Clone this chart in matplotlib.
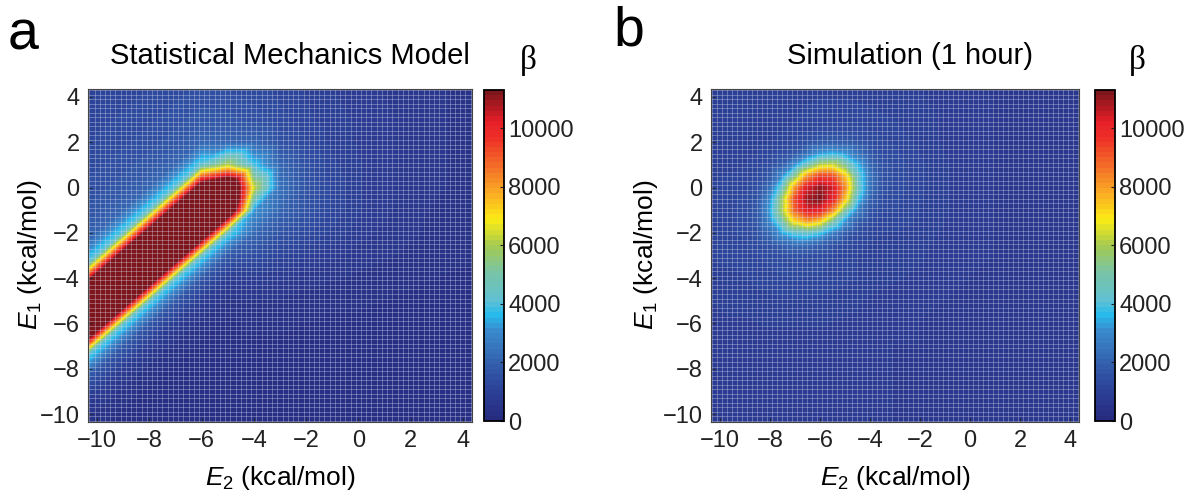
import numpy as np
import matplotlib
matplotlib.use("Agg")
import matplotlib.pyplot as plt
import matplotlib.tri as mtri
from matplotlib.colors import LinearSegmentedColormap, Normalize
from matplotlib.cm import ScalarMappable

plt.rcParams['font.family'] = ['Liberation Sans', 'DejaVu Sans']
plt.rcParams['mathtext.fontset'] = 'custom'
plt.rcParams['mathtext.rm'] = 'Liberation Sans'
plt.rcParams['mathtext.it'] = 'Liberation Sans:italic'

# energy grid (kcal/mol), 1 unit spacing, one step past the axis range
grid_e2 = [-11, -10, -9, -8, -7, -6, -5, -4, -3, -2, -1, 0, 1, 2, 3, 4, 5]
grid_e1 = [5, 4, 3, 2, 1, 0, -1, -2, -3, -4, -5, -6, -7, -8, -9, -10, -11]
ticks_e = [-10, -8, -6, -4, -2, 0, 2, 4]
cbar_ticks = [0, 2000, 4000, 6000, 8000, 10000]

# panel a: statistical mechanics model, beta in thousands
# rows: E1 = 5 ... -11 (top to bottom), cols: E2 = -11 ... 5
model_beta = [
    [0.95, 1.0, 1.08, 1.17, 1.27, 1.38, 1.35, 1.25, 1.15, 1.0, 0.9, 0.8, 0.7, 0.6, 0.55, 0.5, 0.5],
    [1.0, 1.08, 1.17, 1.27, 1.38, 1.5, 1.45, 1.35, 1.2, 1.05, 0.9, 0.8, 0.7, 0.6, 0.55, 0.5, 0.5],
    [1.08, 1.17, 1.27, 1.38, 1.5, 1.7, 1.65, 1.5, 1.3, 1.1, 0.95, 0.85, 0.75, 0.65, 0.55, 0.5, 0.5],
    [1.17, 1.27, 1.38, 1.5, 1.7, 2.1, 2.1, 2.1, 1.55, 1.25, 1.0, 0.85, 0.75, 0.65, 0.55, 0.5, 0.5],
    [1.27, 1.38, 1.5, 1.7, 2.1, 4.2, 6.0, 3.8, 2.1, 1.5, 1.1, 0.9, 0.75, 0.65, 0.55, 0.5, 0.5],
    [1.38, 1.5, 1.7, 2.1, 4.2, 13.1, 15.0, 6.3, 2.4, 1.6, 1.2, 0.9, 0.75, 0.65, 0.55, 0.5, 0.5],
    [1.5, 1.7, 2.1, 4.2, 13.1, 15.0, 14.35, 3.2, 2.1, 1.6, 1.2, 0.9, 0.75, 0.6, 0.5, 0.5, 0.5],
    [1.7, 2.1, 4.2, 13.1, 15.0, 14.35, 4.2, 2.2, 1.6, 1.3, 1.0, 0.8, 0.65, 0.55, 0.5, 0.45, 0.45],
    [2.1, 4.2, 13.1, 15.0, 14.35, 4.2, 1.7, 1.4, 1.1, 0.9, 0.75, 0.6, 0.55, 0.5, 0.45, 0.4, 0.4],
    [4.2, 13.1, 15.0, 14.35, 4.2, 1.7, 0.8, 0.85, 0.75, 0.6, 0.55, 0.5, 0.45, 0.4, 0.35, 0.3, 0.3],
    [13.1, 15.0, 14.35, 4.2, 1.7, 0.8, 0.45, 0.5, 0.5, 0.45, 0.4, 0.4, 0.35, 0.3, 0.3, 0.3, 0.3],
    [15.0, 14.35, 4.2, 1.7, 0.8, 0.45, 0.3, 0.4, 0.4, 0.35, 0.3, 0.3, 0.3, 0.3, 0.3, 0.3, 0.3],
    [14.35, 4.2, 1.7, 0.8, 0.45, 0.3, 0.3, 0.3, 0.3, 0.3, 0.3, 0.3, 0.3, 0.3, 0.3, 0.3, 0.3],
    [4.2, 1.7, 0.8, 0.45, 0.3, 0.3, 0.3, 0.3, 0.3, 0.3, 0.3, 0.3, 0.3, 0.3, 0.3, 0.3, 0.3],
    [1.7, 0.8, 0.45, 0.3, 0.3, 0.3, 0.3, 0.3, 0.3, 0.3, 0.3, 0.3, 0.3, 0.3, 0.3, 0.3, 0.3],
    [0.8, 0.45, 0.3, 0.3, 0.3, 0.3, 0.3, 0.3, 0.3, 0.3, 0.3, 0.3, 0.3, 0.3, 0.3, 0.3, 0.3],
    [0.45, 0.3, 0.3, 0.3, 0.3, 0.3, 0.3, 0.3, 0.3, 0.3, 0.3, 0.3, 0.3, 0.3, 0.3, 0.3, 0.3],
]

# panel b: simulation (1 hour), coarse background on the same grid
sim_background = [
    [0.8, 0.85, 0.85, 0.9, 0.9, 0.95, 0.95, 0.9, 0.85, 0.8, 0.75, 0.7, 0.7, 0.7, 0.7, 0.7, 0.7],
    [0.85, 0.9, 0.95, 0.95, 1.0, 1.05, 1.05, 1.0, 0.95, 0.9, 0.8, 0.75, 0.7, 0.7, 0.7, 0.7, 0.7],
    [0.9, 0.95, 1.0, 1.0, 1.05, 1.15, 1.2, 1.15, 1.05, 0.95, 0.85, 0.75, 0.7, 0.7, 0.7, 0.7, 0.7],
    [0.9, 0.95, 1.05, 1.15, 1.3, 1.7, 1.85, 1.6, 1.2, 1.0, 0.85, 0.75, 0.7, 0.7, 0.7, 0.7, 0.7],
    [0.95, 1.0, 1.15, 1.8, 3.05, 6.1, 6.35, 3.6, 1.35, 1.1, 0.9, 0.8, 0.7, 0.7, 0.7, 0.7, 0.7],
    [1.0, 1.1, 1.47, 4.45, 8.0, 11.0, 8.2, 2.4, 1.35, 1.1, 0.9, 0.8, 0.7, 0.7, 0.7, 0.7, 0.7],
    [1.05, 1.15, 1.75, 5.95, 10.2, 10.0, 5.1, 1.6, 1.25, 1.05, 0.9, 0.8, 0.7, 0.7, 0.7, 0.7, 0.7],
    [1.05, 1.15, 1.55, 3.35, 4.15, 3.8, 1.8, 1.17, 1.05, 0.95, 0.85, 0.75, 0.7, 0.7, 0.7, 0.7, 0.7],
    [1.0, 1.1, 1.22, 1.4, 1.45, 1.35, 1.13, 1.02, 0.95, 0.9, 0.8, 0.75, 0.7, 0.7, 0.7, 0.7, 0.7],
    [0.95, 1.0, 1.05, 1.15, 1.25, 1.2, 1.1, 1.0, 0.9, 0.85, 0.8, 0.7, 0.7, 0.7, 0.7, 0.7, 0.7],
    [0.85, 0.9, 0.95, 1.0, 1.05, 1.0, 0.95, 0.85, 0.8, 0.75, 0.7, 0.7, 0.7, 0.7, 0.7, 0.7, 0.7],
    [0.8, 0.85, 0.85, 0.9, 0.9, 0.9, 0.85, 0.8, 0.75, 0.7, 0.7, 0.7, 0.7, 0.7, 0.7, 0.7, 0.7],
    [0.8, 0.8, 0.8, 0.8, 0.8, 0.8, 0.8, 0.75, 0.7, 0.7, 0.7, 0.7, 0.7, 0.7, 0.7, 0.7, 0.7],
    [0.8, 0.8, 0.8, 0.8, 0.8, 0.8, 0.8, 0.75, 0.7, 0.7, 0.7, 0.7, 0.7, 0.7, 0.7, 0.7, 0.7],
    [0.8, 0.8, 0.8, 0.8, 0.8, 0.8, 0.8, 0.75, 0.7, 0.7, 0.7, 0.7, 0.7, 0.7, 0.7, 0.7, 0.7],
    [0.8, 0.8, 0.8, 0.8, 0.8, 0.8, 0.8, 0.75, 0.7, 0.7, 0.7, 0.7, 0.7, 0.7, 0.7, 0.7, 0.7],
    [0.8, 0.8, 0.8, 0.8, 0.8, 0.8, 0.8, 0.75, 0.7, 0.7, 0.7, 0.7, 0.7, 0.7, 0.7, 0.7, 0.7],
]

# finer 0.5 kcal/mol patch around the simulated peak
peak_e2 = [-9.0, -8.5, -8.0, -7.5, -7.0, -6.5, -6.0, -5.5, -5.0, -4.5, -4.0, -3.5]
peak_e1 = [2.5, 2.0, 1.5, 1.0, 0.5, 0.0, -0.5, -1.0, -1.5, -2.0, -2.5, -3.0]
sim_peak = [
    [1.0, 1.0, 1.0, 1.05, 1.1, 1.2, 1.28, 1.33, 1.33, 1.3, 1.22, 1.13],
    [1.0, 1.02, 1.05, 1.15, 1.3, 1.5, 1.7, 1.85, 1.8, 1.6, 1.42, 1.25],
    [1.0, 1.05, 1.17, 1.37, 1.7, 2.4, 3.2, 3.5, 3.2, 2.4, 1.7, 1.37],
    [1.05, 1.15, 1.37, 1.8, 3.05, 4.6, 6.1, 6.35, 5.2, 3.6, 2.1, 1.5],
    [1.1, 1.3, 1.7, 3.0, 5.3, 8.1, 9.4, 9.2, 7.4, 4.4, 2.5, 1.55],
    [1.18, 1.47, 2.3, 4.45, 8.0, 10.3, 11.0, 10.4, 8.2, 4.65, 2.4, 1.5],
    [1.27, 1.6, 3.0, 5.8, 9.2, 10.9, 11.2, 10.1, 7.35, 3.9, 2.0, 1.37],
    [1.3, 1.75, 3.3, 5.95, 8.85, 10.2, 10.0, 8.3, 5.1, 2.75, 1.6, 1.25],
    [1.3, 1.7, 2.9, 4.8, 7.0, 7.85, 7.15, 5.0, 3.1, 1.8, 1.33, 1.13],
    [1.28, 1.55, 2.2, 3.35, 4.15, 4.3, 3.8, 2.7, 1.8, 1.37, 1.17, 1.05],
    [1.2, 1.37, 1.6, 2.0, 2.3, 2.25, 1.95, 1.55, 1.33, 1.17, 1.05, 1.02],
    [1.12, 1.22, 1.33, 1.4, 1.45, 1.42, 1.35, 1.24, 1.13, 1.05, 1.02, 1.0],
]

# muted jet-like colormap of the original figure
cmap_colors = [
    (0.00, (38, 43, 128)),
    (0.09, (44, 66, 152)),
    (0.18, (52, 100, 176)),
    (0.27, (56, 140, 205)),
    (0.32, (40, 188, 238)),
    (0.36, (95, 192, 212)),
    (0.45, (122, 196, 165)),
    (0.53, (165, 202, 80)),
    (0.61, (252, 236, 20)),
    (0.69, (250, 172, 36)),
    (0.77, (243, 112, 40)),
    (0.86, (238, 48, 40)),
    (0.91, (230, 30, 40)),
    (1.00, (125, 22, 28)),
]
cmap = LinearSegmentedColormap.from_list(
    'muted_jet', [(p, tuple(c / 255 for c in rgb)) for p, rgb in cmap_colors], N=64)
cmap.set_over(cmap(1.0))
cmap.set_under(cmap(0.0))

VMAX = 11300
LEVELS = np.linspace(0, VMAX, 65)
W, H = 1197, 497
fig = plt.figure(figsize=(W / 100, H / 100), dpi=100)


def box(x0, x1, y0, y1):
    return [x0 / W, 1 - y1 / H, (x1 - x0) / W, (y1 - y0) / H]


def grid_points(xs, ys, vals):
    X, Y = np.meshgrid(xs, ys)
    return X.ravel().astype(float), Y.ravel().astype(float), np.array(vals).ravel() * 1000


def diagonal_triangles(nx, ny):
    # split each cell along its lower-left -> upper-right diagonal
    tris = []
    for j in range(ny - 1):
        for i in range(nx - 1):
            ul, ur = j * nx + i, j * nx + i + 1
            ll, lr = (j + 1) * nx + i, (j + 1) * nx + i + 1
            tris.append([ll, lr, ur])
            tris.append([ll, ur, ul])
    return tris


def style_panel(ax, cax):
    lim = (-10.35, 4.35)
    ax.set_xlim(lim)
    ax.set_ylim(lim)
    # faint mesh lines of the surface plot
    for g in np.arange(-10.3, 4.4, 0.2):
        ax.axvline(g, color='#dde0f2', lw=0.6, alpha=0.4)
        ax.axhline(g, color='#dde0f2', lw=0.6, alpha=0.4)
    ax.set_xticks(ticks_e)
    ax.set_yticks(ticks_e)
    ax.set_xticklabels([f'{t}'.replace('-', '\u2212') for t in ticks_e])
    ax.set_yticklabels([f'{t}'.replace('-', '\u2212') for t in ticks_e])
    ax.tick_params(direction='in', length=3, width=0.6, labelsize=17,
                   colors='#222222', pad=6)
    for sp in ax.spines.values():
        sp.set_color('#444444')
        sp.set_linewidth(0.8)
        sp.set_zorder(5)
    sm = ScalarMappable(norm=Normalize(0, VMAX), cmap=cmap)
    cb = fig.colorbar(sm, cax=cax, ticks=cbar_ticks)
    cb.outline.set_linewidth(1.3)
    cb.outline.set_edgecolor('black')
    cax.tick_params(direction='in', length=3, width=0.8, labelsize=17,
                    colors='#222222', pad=3)


ax_a = fig.add_axes(box(88, 472, 89, 422))
cax_a = fig.add_axes(box(484, 504, 90, 421))
ax_b = fig.add_axes(box(711, 1079, 89, 422))
cax_b = fig.add_axes(box(1095, 1115, 90, 421))

# panel a
xa, ya, za = grid_points(grid_e2, grid_e1, model_beta)
tri_a = mtri.Triangulation(xa, ya, diagonal_triangles(len(grid_e2), len(grid_e1)))
ax_a.tricontourf(tri_a, za, levels=LEVELS, cmap=cmap, extend='both')
style_panel(ax_a, cax_a)

# panel b: coarse background outside the peak patch + fine patch
xb, yb, zb = grid_points(grid_e2, grid_e1, sim_background)
xp, yp, zp = grid_points(peak_e2, peak_e1, sim_peak)
outside = ~((xb >= min(peak_e2)) & (xb <= max(peak_e2)) &
            (yb >= min(peak_e1)) & (yb <= max(peak_e1)))
tri_b = mtri.Triangulation(np.concatenate([xb[outside], xp]),
                           np.concatenate([yb[outside], yp]))
ax_b.tricontourf(tri_b, np.concatenate([zb[outside], zp]),
                 levels=LEVELS, cmap=cmap, extend='both')
style_panel(ax_b, cax_b)

# titles, panel letters and labels
fig.text(290 / W, 1 - 56 / H, 'Statistical Mechanics Model', fontsize=21,
         ha='center', va='center')
fig.text(910 / W, 1 - 56 / H, 'Simulation (1 hour)', fontsize=21,
         ha='center', va='center')
fig.text(8 / W, 1 - 36 / H, 'a', fontsize=40, ha='left', va='center')
fig.text(613 / W, 1 - 32 / H, 'b', fontsize=40, ha='left', va='center')
for bx in (528, 1137):
    fig.text(bx / W, 1 - 60 / H, '\u03b2', fontsize=24, ha='center', va='center',
             family=['Liberation Serif', 'DejaVu Serif'])

for cx in (280, 895):
    fig.text(cx / W, 1 - 478 / H, r'$\mathit{E_2}$ (kcal/mol)', fontsize=19,
             ha='center', va='center')
for lx in (30, 646):
    fig.text(lx / W, 1 - 255 / H, r'$\mathit{E_1}$ (kcal/mol)', fontsize=19,
             ha='center', va='center', rotation=90)

fig.savefig('out.png', dpi=100)
